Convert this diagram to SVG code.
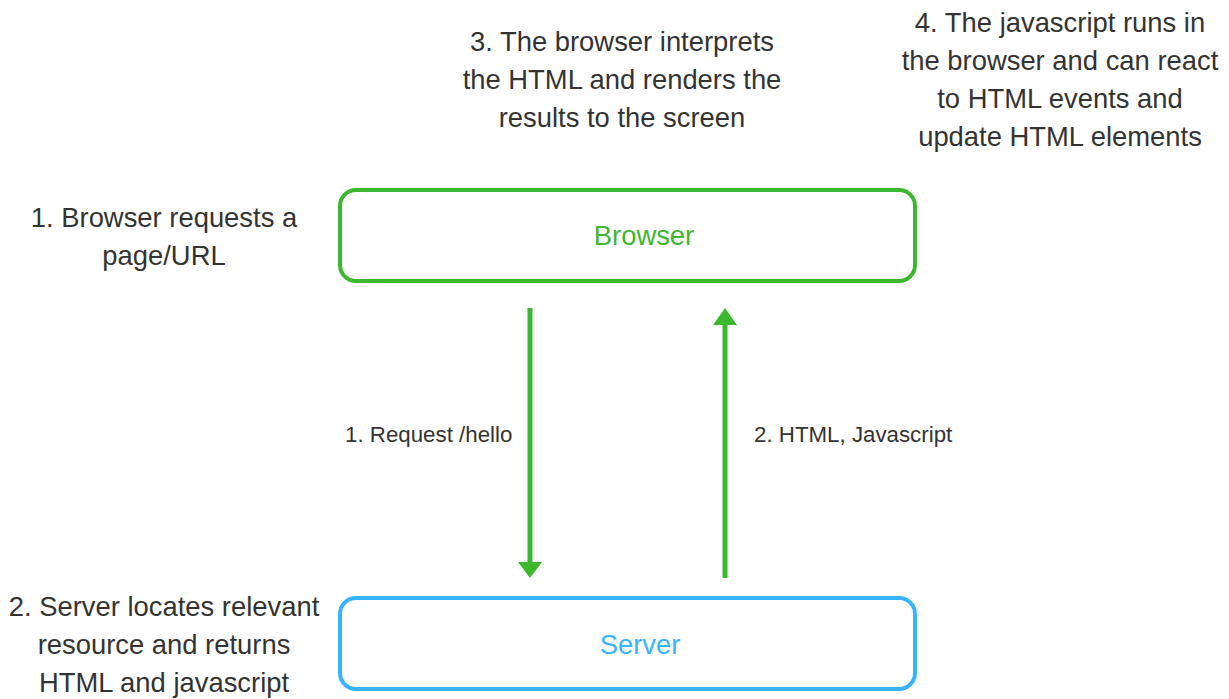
<svg xmlns="http://www.w3.org/2000/svg" width="1229" height="699" viewBox="0 0 1229 699">
<style>
.note{font-family:"Liberation Sans",Arial,sans-serif;font-size:27.4px;fill:#333;text-anchor:middle}
.lbl{font-family:"Liberation Sans",Arial,sans-serif;font-size:22.3px;fill:#333}
.box{fill:#fff;stroke-width:4}
.name{font-family:"Liberation Sans",Arial,sans-serif;font-size:27.4px;text-anchor:middle}
.conn{stroke:#3bb82e;stroke-width:5;fill:none}
</style>
<rect width="1229" height="699" fill="#fff"/>
<g id="browser">
<rect class="box" x="340" y="190" width="575" height="91" rx="16" stroke="#3bb82e"/>
<text class="name" x="644" y="245" fill="#3bb82e">Browser</text>
</g>
<g id="server">
<rect class="box" x="340" y="598" width="575" height="91" rx="16" stroke="#36b4ff"/>
<text class="name" x="640" y="654" fill="#36b4ff">Server</text>
</g>
<g id="connectors">
<line class="conn" x1="530" y1="308" x2="530" y2="564"/>
<polygon points="518,562 542,562 530,578" fill="#3bb82e"/>
<line class="conn" x1="725" y1="578" x2="725" y2="323"/>
<polygon points="713,325 737,325 725,308" fill="#3bb82e"/>
<text class="lbl" x="345" y="442">1. Request /hello</text>
<text class="lbl" x="754" y="442">2. HTML, Javascript</text>
</g>
<g id="note1">
<text class="note" x="164" y="227">1. Browser requests a</text>
<text class="note" x="164" y="265">page/URL</text>
</g>
<g id="note2">
<text class="note" x="164" y="616">2. Server locates relevant</text>
<text class="note" x="164" y="654">resource and returns</text>
<text class="note" x="164" y="692">HTML and javascript</text>
</g>
<g id="note3">
<text class="note" x="622" y="51">3. The browser interprets</text>
<text class="note" x="622" y="89">the HTML and renders the</text>
<text class="note" x="622" y="127">results to the screen</text>
</g>
<g id="note4">
<text class="note" x="1060" y="32">4. The javascript runs in</text>
<text class="note" x="1060" y="70">the browser and can react</text>
<text class="note" x="1060" y="108">to HTML events and</text>
<text class="note" x="1060" y="146">update HTML elements</text>
</g>
</svg>
